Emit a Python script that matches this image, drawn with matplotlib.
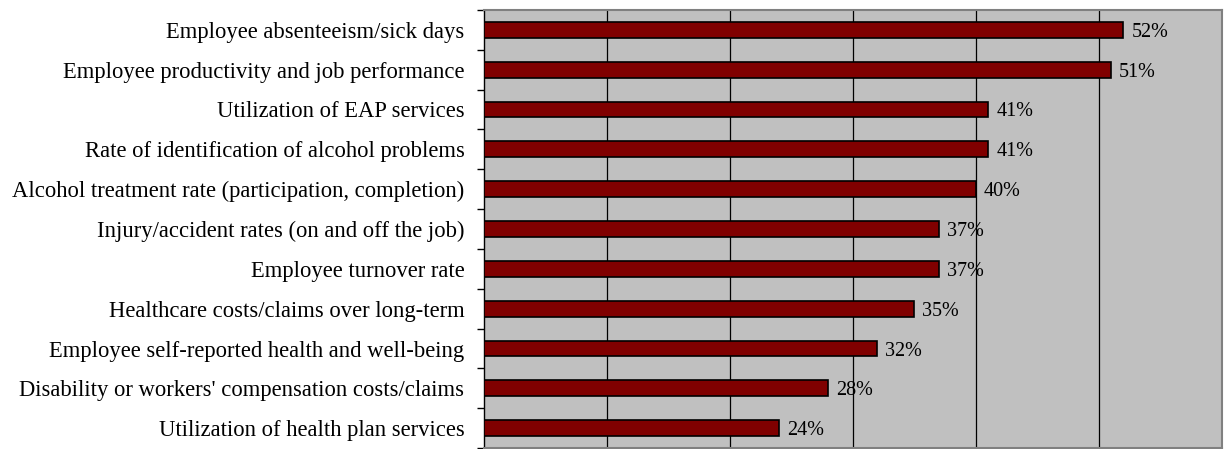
import numpy as np
import matplotlib.pyplot as plt

categories = [
    "Employee absenteeism/sick days",
    "Employee productivity and job performance",
    "Utilization of EAP services",
    "Rate of identification of alcohol problems",
    "Alcohol treatment rate (participation, completion)",
    "Injury/accident rates (on and off the job)",
    "Employee turnover rate",
    "Healthcare costs/claims over long-term",
    "Employee self-reported health and well-being",
    "Disability or workers' compensation costs/claims",
    "Utilization of health plan services",
]
values = [52, 51, 41, 41, 40, 37, 37, 35, 32, 28, 24]

plt.rcParams['font.family'] = ['Liberation Serif', 'DejaVu Serif']

fig = plt.figure(figsize=(12.28, 4.49), dpi=100)
ax = fig.add_axes([0.394, 0.002, 0.601, 0.976])
ax.set_facecolor('#C0C0C0')

y = np.arange(len(categories))
ax.barh(y, values, height=0.4, color='#800000', edgecolor='black', linewidth=1.2, zorder=3)

for yi, v in zip(y, values):
    ax.text(v + 0.65, yi, f"{v}%", va='center_baseline', ha='left', fontsize=14.5, zorder=4)

ax.set_xlim(0, 60)
ax.set_ylim(len(categories) - 0.5, -0.5)
ax.set_xticks(np.arange(10, 60, 10))
ax.tick_params(axis='x', length=0, labelbottom=False)
ax.grid(axis='x', color='black', linewidth=0.9, zorder=1)

# category labels sit between the tick marks, ticks on the boundaries
ax.set_yticks(np.arange(-0.5, len(categories), 1))
ax.set_yticklabels([])
ax.set_yticks(y, minor=True)
ax.set_yticklabels(categories, minor=True, fontsize=16.3)
ax.tick_params(axis='y', which='major', length=5, width=1, direction='out')
ax.tick_params(axis='y', which='minor', length=0, pad=14)

for side in ['top', 'right', 'bottom']:
    ax.spines[side].set_color('#808080')
    ax.spines[side].set_linewidth(1.5)
ax.spines['left'].set_color('black')
ax.spines['left'].set_linewidth(1)

fig.savefig('out.png', dpi=100)
